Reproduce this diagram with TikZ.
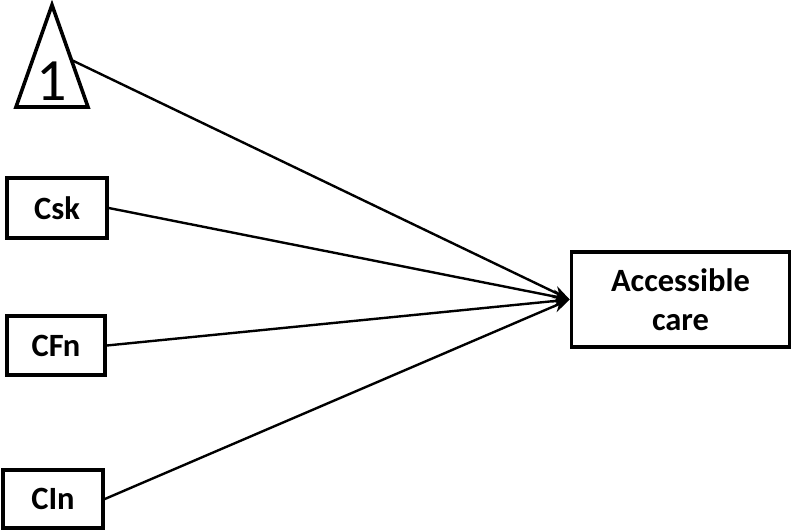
\documentclass[tikz,border=0pt]{standalone}
\usepackage{fontspec}
\setmainfont{Carlito}
\usetikzlibrary{arrows.meta}
\begin{document}
\begin{tikzpicture}[x=1pt,y=-1pt,
	boite/.style={draw,line width=3.6pt,inner sep=0pt,align=center,
		font=\fontsize{32.5}{39}\selectfont\bfseries},
	fleche/.style={line width=2.4pt,-{Stealth[length=17pt,width=13pt]}}]
%					Cadre :
					\useasboundingbox (0,0) rectangle (794,530);
%					Triangle :
					\draw[line width=3.6pt,line join=miter] (52,5) -- (88,107) -- (16,107) -- cycle;
					\node (un) at (52,81.5) {\fontsize{60}{62}\selectfont 1};
					\coordinate (sommet) at (71.5,60);
%					Boites :
					\node[boite,minimum width=100pt,minimum height=60pt] (csk) at (57,208) {Csk};
					\node[boite,minimum width=98pt,minimum height=59pt] (cfn) at (56,345.5) {CFn};
					\node[boite,minimum width=100pt,minimum height=58pt] (cin) at (53,499) {CIn};
					\node[boite,minimum width=218pt,minimum height=95pt] (soin) at (680.5,299.5) {Accessible\\care};
%					Fleches :
					\draw[fleche] (sommet) -- (soin.west);
					\draw[fleche] (csk.east) -- (soin.west);
					\draw[fleche] (cfn.east) -- (soin.west);
					\draw[fleche] (cin.east) -- (soin.west);
				\end{tikzpicture}
\end{document}
